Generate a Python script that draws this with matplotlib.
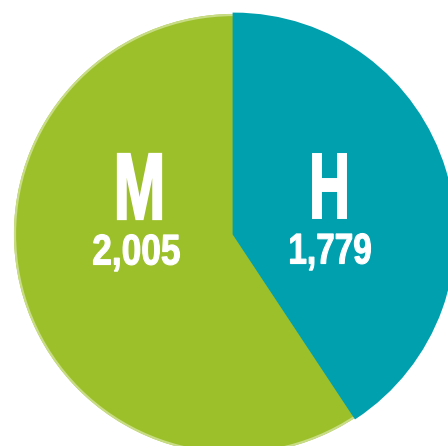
import numpy as np
import matplotlib
matplotlib.use("Agg")
from matplotlib import pyplot as plt
from matplotlib.textpath import TextPath
from matplotlib.font_manager import FontProperties
from matplotlib.patches import PathPatch, Circle
from matplotlib.transforms import Affine2D

# ----- data ----- #
letters = ['H', 'M']
counts = [1779, 2005]
shares = [40.7, 59.3]          # wedge sizes as drawn in the picture
colors = ['#00A0AE', '#9CC02A']
edge_green = '#C8DC86'

W, H = 448, 446
fig = plt.figure(figsize=(W/100, H/100), dpi=100)
ax = fig.add_axes([0, 0, 1, 1])

cx, cy, r = 234, H-234, 220
wedges, _ = ax.pie(shares, colors=colors, startangle=90, counterclock=False,
                   center=(cx, cy), radius=r, frame=True,
                   wedgeprops=dict(linewidth=0))
ax.set_xlim(0, W)
ax.set_ylim(0, H)
ax.set_aspect('equal')
ax.axis('off')

# light rim on the green part
ax.add_patch(Circle((cx, cy), r-1, fill=False, ec=edge_green, lw=1.6, zorder=1.5))
wedges[0].set_zorder(2)
wedges[0].set_edgecolor(colors[0])
wedges[0].set_linewidth(2.0)
wedges[1].set_zorder(1)

# ----- condensed labels (squeezed text paths) ----- #
fp = FontProperties(family='Liberation Sans', weight='bold')

def put(s, x0, x1, ytop, ybase, lw):
    d = lw * 0.6   # shrink box so the stroke keeps the outer size
    x0, x1, ytop, ybase = x0 + d, x1 - d, ytop + d, ybase - d
    tp = TextPath((0, 0), s, size=100, prop=fp)
    ext = tp.get_extents()
    cap = TextPath((0, 0), 'H' if s.isalpha() else '0', size=100, prop=fp).get_extents().y1
    sx = (x1 - x0) / ext.width
    sy = (ybase - ytop) / cap
    tr = Affine2D().translate(-ext.x0, 0).scale(sx, sy).translate(x0, H - ybase)
    ax.add_patch(PathPatch(tr.transform_path(tp), fc='white', ec='white',
                           lw=lw, joinstyle='miter', zorder=5))

# (x left, x right, top, baseline) in picture pixels
boxes = {'H': [(312, 347, 153, 219), (290, 371, 233, 264)],
         'M': [(117, 162, 153, 220), (93, 180, 234, 265)]}
for lab, n in zip(letters, counts):
    b1, b2 = boxes[lab]
    put(lab, *b1, lw=1.4)
    put(f"{n:,}", *b2, lw=0.8)

fig.savefig('out.png', dpi=100)
